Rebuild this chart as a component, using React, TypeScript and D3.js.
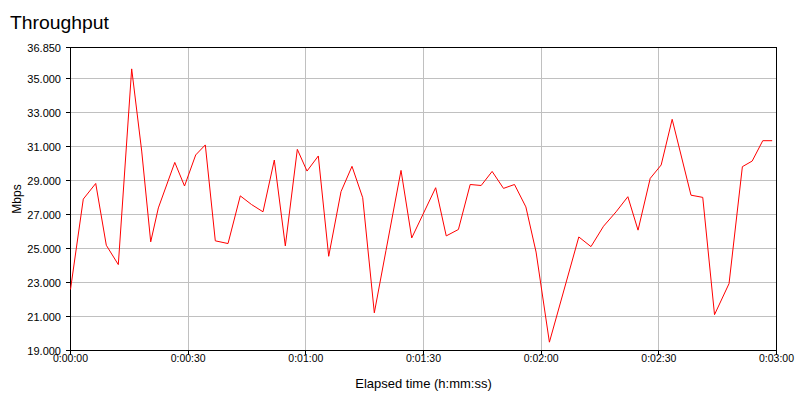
import React from "react";
import * as d3 from "d3";

const times: number[] = [0, 3.26, 6.43, 9.13, 12.19, 15.6, 18.15, 20.45, 22.4, 26.59, 29.07, 31.92, 34.37, 36.92, 40.16, 43.29, 46.15, 49.08, 51.96, 54.77, 57.83, 60.3, 63.18, 65.83, 68.97, 71.77, 74.5, 77.46, 80.44, 84.27, 87.0, 93.1, 95.8, 98.9, 101.9, 104.7, 107.5, 110.4, 113.2, 116.1, 118.7, 122.1, 129.6, 132.7, 135.9, 139.1, 142.1, 144.7, 147.8, 150.6, 153.4, 158.2, 161.2, 164.2, 167.9, 171.3, 173.8, 176.5, 178.9];
const throughput: number[] = [22.6, 27.92, 28.84, 25.2, 24.06, 35.59, 30.75, 25.4, 27.4, 30.08, 28.69, 30.52, 31.11, 25.46, 25.3, 28.11, 27.6, 27.17, 30.22, 25.16, 30.85, 29.57, 30.46, 24.55, 28.36, 29.85, 28.0, 21.22, 24.9, 29.61, 25.63, 28.59, 25.75, 26.13, 28.78, 28.72, 29.55, 28.55, 28.78, 27.46, 24.8, 19.49, 25.69, 25.12, 26.32, 27.17, 28.06, 26.09, 29.14, 29.93, 32.62, 28.15, 28.02, 21.11, 22.94, 29.83, 30.16, 31.36, 31.36];

const yTicks: number[] = [19, 21, 23, 25, 27, 29, 31, 33, 35, 36.85];
const xTicks: number[] = [0, 30, 60, 90, 120, 150, 180];
const xTickLabels: string[] = ["0:00:00", "0:00:30", "0:01:00", "0:01:30", "0:02:00", "0:02:30", "0:03:00"];

const title = "Throughput";
const xTitle = "Elapsed time (h:mm:ss)";
const yTitle = "Mbps";

export default function App() {
  const W = 800, H = 400;
  const left = 70.5, right = 776.5, top = 47.5, bottom = 350.5;
  const x = d3.scaleLinear().domain([0, 180]).range([left, right]);
  const y = d3.scaleLinear().domain([19, 36.85]).range([bottom, top]);
  const line = d3.line<number>().x((_, i) => x(times[i])).y((d) => y(d));
  const font = "'Liberation Sans', Arial, sans-serif";
  const snap = (v: number) => Math.round(v - 0.5) + 0.5;

  return (
    <svg width={W} height={H} style={{ position: "absolute", left: 0, top: 0, background: "#fff" }} fontFamily={font}>
      <rect x={0} y={0} width={W} height={H} fill="#fff" />
      <text x={10} y={29} fontSize={18} textLength={99} lengthAdjust="spacingAndGlyphs" fill="#000">{title}</text>
      {/* gridlines */}
      <g stroke="#c0c0c0" strokeWidth={1} shapeRendering="crispEdges">
        {yTicks.filter((t) => t > 19 && t < 36).map((t) => (
          <line key={"gy" + t} x1={left} x2={right} y1={snap(y(t))} y2={snap(y(t))} />
        ))}
        {xTicks.filter((t) => t > 0 && t < 180).map((t) => (
          <line key={"gx" + t} x1={snap(x(t))} x2={snap(x(t))} y1={top} y2={bottom} />
        ))}
      </g>
      {/* frame */}
      <rect x={left} y={top} width={right - left} height={bottom - top} fill="none" stroke="#000" strokeWidth={1} shapeRendering="crispEdges" />
      {/* ticks */}
      <g shapeRendering="crispEdges">
        {yTicks.map((t) => (
          <g key={"yt" + t}>
            <line x1={left - 5} x2={left} y1={snap(y(t))} y2={snap(y(t))} stroke="#000" />
            <text x={61} y={y(t) + 4} fontSize={11} textAnchor="end" fill="#000">{t.toFixed(3)}</text>
          </g>
        ))}
        {xTicks.map((t, i) => (
          <g key={"xt" + t}>
            <line x1={snap(x(t))} x2={snap(x(t))} y1={bottom} y2={bottom + 4} stroke="#000" />
            <text x={x(t)} y={362} fontSize={11} textAnchor="middle" textLength={35} lengthAdjust="spacingAndGlyphs" fill="#000">{xTickLabels[i]}</text>
          </g>
        ))}
      </g>
      <text x={(left + right) / 2} y={388} fontSize={13} textAnchor="middle" fill="#000">{xTitle}</text>
      <text transform={`translate(21,${(top + bottom) / 2}) rotate(-90)`} fontSize={12} textAnchor="middle" fill="#000">{yTitle}</text>
      <path d={line(throughput) || ""} fill="none" stroke="#ff0000" strokeWidth={1} />
    </svg>
  );
}
